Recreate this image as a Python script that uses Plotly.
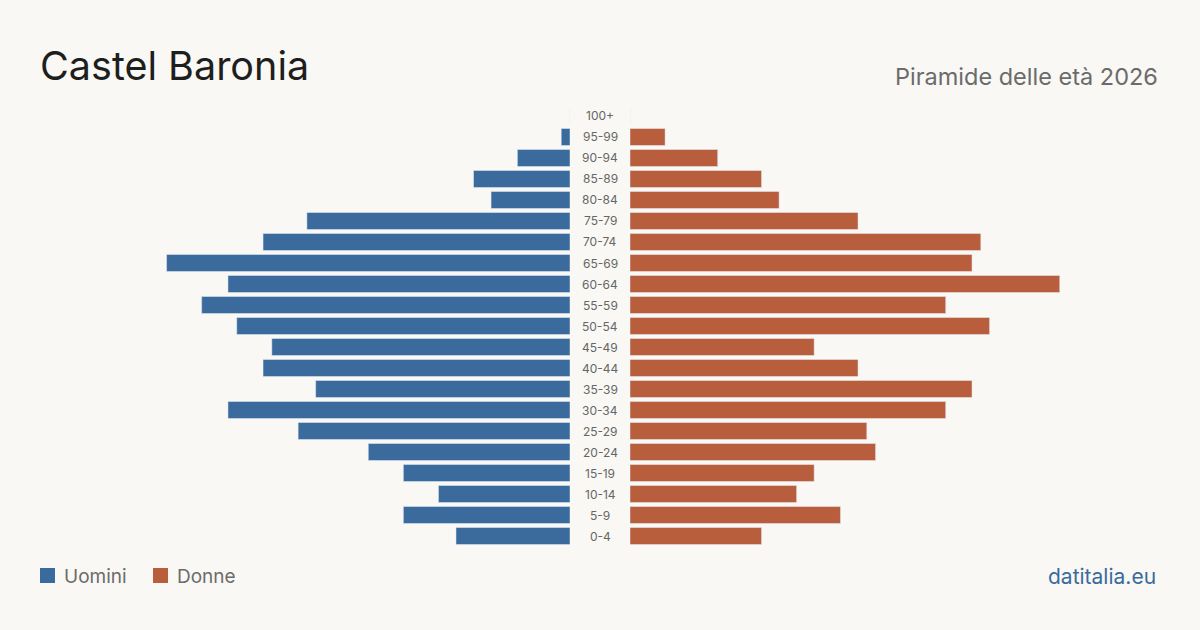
import plotly.graph_objects as go

age_groups = ["0-4", "5-9", "10-14", "15-19", "20-24", "25-29", "30-34", "35-39", "40-44",
              "45-49", "50-54", "55-59", "60-64", "65-69", "70-74", "75-79", "80-84",
              "85-89", "90-94", "95-99", "100+"]
men = [13, 19, 15, 19, 23, 31, 39, 29, 35, 34, 38, 42, 39, 46, 35, 30, 9, 11, 6, 1, 0]
women = [15, 24, 19, 21, 28, 27, 36, 39, 26, 21, 41, 36, 49, 39, 40, 26, 17, 15, 10, 4, 0]

BLUE = "#3a6b9c"
ORANGE = "#b95e3c"
BG = "#f9f8f4"
FONT = "Inter, Roboto, sans-serif"

fig = go.Figure()
fig.add_trace(go.Bar(y=age_groups, x=men, orientation="h", marker_color=BLUE,
                     name="Uomini", xaxis="x", yaxis="y", showlegend=False,
                     hovertemplate="%{y}: %{x}<extra>Uomini</extra>"))
fig.add_trace(go.Bar(y=age_groups, x=women, orientation="h", marker_color=ORANGE,
                     name="Donne", xaxis="x2", yaxis="y", showlegend=False,
                     hovertemplate="%{y}: %{x}<extra>Donne</extra>"))

R = 530 / 8.77
ydom = [(630 - 546.5) / 630, (630 - 105.5) / 630]
fig.update_layout(
    width=1200, height=630,
    margin=dict(l=0, r=0, t=0, b=0),
    paper_bgcolor=BG, plot_bgcolor=BG,
    bargap=0.19,
    font=dict(family=FONT),
    xaxis=dict(domain=[40 / 1200, 570 / 1200], range=[R, 0], visible=False, fixedrange=True),
    xaxis2=dict(domain=[630 / 1200, 1160 / 1200], range=[0, R], visible=False, fixedrange=True),
    yaxis=dict(domain=ydom, type="category", categoryorder="array", categoryarray=age_groups,
               range=[-0.5, len(age_groups) - 0.5], visible=False, fixedrange=True),
)

for g in age_groups:
    fig.add_annotation(x=0.5, xref="paper", y=g, yref="y", text=g, showarrow=False,
                       font=dict(size=12, color="#666", family=FONT), xanchor="center", yanchor="middle")

fig.add_annotation(x=38 / 1200, y=1 - 66 / 630, xref="paper", yref="paper", text="Castel Baronia",
                   showarrow=False, xanchor="left", yanchor="middle",
                   font=dict(size=39.5, color="#1e1e1e", family=FONT))
fig.add_annotation(x=1160 / 1200, y=1 - 76 / 630, xref="paper", yref="paper", text="Piramide delle età 2026",
                   showarrow=False, xanchor="right", yanchor="middle",
                   font=dict(size=23.5, color="#6b6b6b", family=FONT))
fig.add_annotation(x=1158 / 1200, y=1 - 576 / 630, xref="paper", yref="paper", text="datitalia.eu",
                   showarrow=False, xanchor="right", yanchor="middle",
                   font=dict(size=21, color="#3a6b9c", family=FONT))

# legend
for x0, col, label in [(40, BLUE, "Uomini"), (153, ORANGE, "Donne")]:
    fig.add_shape(type="rect", xref="paper", yref="paper",
                  x0=x0 / 1200, x1=(x0 + 15) / 1200, y0=1 - 583 / 630, y1=1 - 568 / 630,
                  fillcolor=col, line=dict(width=0))
    fig.add_annotation(x=(x0 + 22) / 1200, y=1 - 576 / 630, xref="paper", yref="paper", text=label,
                       showarrow=False, xanchor="left", yanchor="middle",
                       font=dict(size=19, color="#6b6b6b", family=FONT))

fig.write_html("out.html")
